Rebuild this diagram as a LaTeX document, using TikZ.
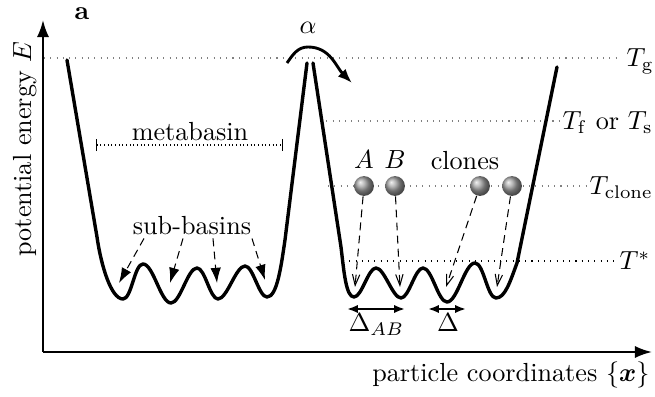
\documentclass[tikz,border=0pt]{standalone}
\usepackage{amsmath, amssymb}
\usepackage{tikz}
\usetikzlibrary{
  arrows.meta,
  calc,
  positioning
}
\tikzset{>=latex}
\tikzset{
  landscape/.style={line width=1.3pt, line join=round, line cap=round},
  wave/.style={out=0, in=180, looseness=0.55},
  axisline/.style={line width=0.8pt, -{Latex[length=6.5pt, width=4.6pt]}},
  level/.style={gray, dotted, thin},
  hint/.style={densely dashed, thin, -{Latex[length=5.8pt, width=4pt]}},
  drop/.style={densely dashed, thin, -{Straight Barb[length=4.2pt, width=2.8pt]}},
  clone/.style={circle, shade, ball color=gray!75, minimum size=7.6pt, inner sep=0pt},
  gap/.style={thick, {Latex[length=4.2pt, width=3.2pt]}-{Latex[length=4.2pt, width=3.2pt]}},
  tlabel/.style={anchor=base west, inner sep=0pt}
}

\begin{document}
\begin{tikzpicture}[x=0.382pt, y=0.382pt]
  \useasboundingbox (0,0) rectangle (655,397);

  % axes
  \coordinate (O) at (43,45);
  \coordinate (Etop) at (43,377);
  \coordinate (Xend) at (652,45);
  \draw[axisline] (O) -- (Etop);
  \draw[axisline] (O) -- (Xend);
  \node[anchor=base, inner sep=0pt] at (82,377) {\textbf{a}};
  \node[rotate=90, anchor=base] at (31,248) {potential energy $E$};
  \node[anchor=base east, inner sep=0pt] at (650,15) {particle coordinates $\{\boldsymbol{x}\}$};

  % temperature levels
  \draw[level] (44,339) -- (620,339);
  \node[tlabel] at (626,330) {$T_{\mathrm{g}}$};
  \draw[level] (320,276) -- (560,276);
  \node[tlabel] at (562,267) {$T_{\mathrm{f}}$ or $T_{\mathrm{s}}$};
  \draw[level] (328,211) -- (587,211);
  \node[tlabel] at (589,202) {$T_{\mathrm{clone}}$};
  \draw[dotted, thin] (343,136) -- (617,136);
  \node[tlabel] at (619,127) {$T^{*}$};

  % energy landscape
  \draw[landscape] (67,337) -- (97,160)
    .. controls (101,132) and (111,98) .. (123,98)
    to[wave] (143,133) to[wave] (171,94)
    to[wave] (197,129) to[wave] (218,98)
    to[wave] (245,131) to[wave] (267,100)
    .. controls (277,100) and (281,130) .. (285,157) -- (307,334);
  \draw[landscape] (313,334) -- (341,150)
    .. controls (344,125) and (346,100) .. (354,100)
    to[wave] (376,129) to[wave] (401,99)
    to[wave] (423,129) to[wave] (447,95)
    to[wave] (475,134) to[wave] (496,99)
    .. controls (505,99) and (510,115) .. (517,134) -- (557,330);

  % barrier crossing
  \node at (308,369) {$\alpha$};
  \draw[line width=1.1pt, -{Latex[length=5.5pt, width=4.2pt]}]
    (287,334) to[out=55,in=180] (308,350) to[out=0,in=135] (352,314);

  % metabasin
  \draw[densely dotted, {Bar[width=4.6pt]}-{Bar[width=4.6pt]}] (96,252) -- (283,252);
  \node at (190,265) {metabasin};

  % sub-basins
  \node (sub) at (192,171) {sub-basins};
  \coordinate (s1) at (119,114);
  \coordinate (s2) at (170,114);
  \coordinate (s3) at (217,114);
  \coordinate (s4) at (265,117);
  \foreach \dx/\t in {-48/s1, -9/s2, 21/s3, 60/s4}
    \draw[hint] ($(sub.south)+(\dx,6)$) -- (\t);

  % clones
  \node[clone] (A) at (364,211) {};
  \node[clone] (B) at (395,211) {};
  \node[clone] (C1) at (480,211) {};
  \node[clone] (C2) at (512,211) {};
  \node[above=-1pt of A] {$A$};
  \node[above=-1pt of B] {$B$};
  \node[anchor=base] at (465,227) {clones};
  \coordinate (d1) at (355,110);
  \coordinate (d2) at (400,110);
  \coordinate (d3) at (446,110);
  \coordinate (d4) at (497,110);
  \foreach \b/\t in {A/d1, B/d2, C1/d3, C2/d4}
    \draw[drop] (\b) -- (\t);

  % distances
  \coordinate (g1) at (347,88);
  \coordinate (g2) at (405,88);
  \coordinate (g3) at (428,88);
  \coordinate (g4) at (466,88);
  \draw[gap] (g1) -- (g2);
  \draw[gap] (g3) -- (g4);
  \node[anchor=base west, inner sep=0pt] at (348,65) {$\Delta_{AB}$};
  \node[anchor=base, inner sep=0pt] at (448,65) {$\Delta$};
\end{tikzpicture}
\end{document}
